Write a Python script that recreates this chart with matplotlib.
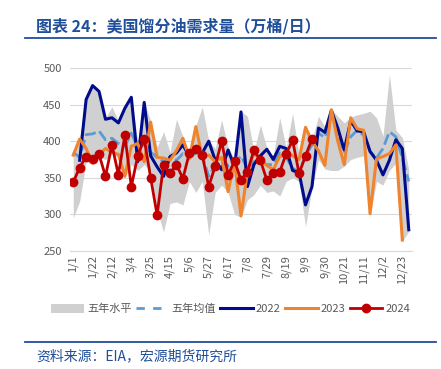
from matplotlib import pyplot as plt
from matplotlib.patches import Patch
from matplotlib.lines import Line2D

plt.rcParams['font.family'] = ['Noto Sans CJK SC', 'DejaVu Sans']

# 横轴刻度(每3周一个)
tick_labels = ['1/1', '1/22', '2/12', '3/4', '3/25', '4/15', '5/6', '5/27', '6/17',
               '7/8', '7/29', '8/19', '9/9', '9/30', '10/21', '11/11', '12/2', '12/23']
n_weeks = 53

# 五年区间上下沿
band_high = [385, 405, 458, 477, 469, 432, 447, 428, 446, 461, 400, 454, 428, 392, 413, 385,
             430, 406, 385, 421, 447, 401, 390, 429, 392, 375, 441, 434, 386, 422, 391, 380,
             432, 391, 438, 380, 420, 402, 434, 420, 444, 434, 425, 433, 436, 438, 441, 432,
             407, 491, 415, 405, 361]
band_low = [295, 318, 372, 368, 378, 375, 383, 378, 350, 368, 360, 368, 360, 305, 276, 315,
            317, 313, 345, 330, 345, 272, 330, 340, 330, 300, 296, 320, 327, 340, 330, 332,
            325, 345, 350, 345, 283, 336, 375, 362, 360, 360, 366, 375, 378, 380, 299, 345,
            340, 360, 370, 263, 277]
# 五年均值
avg5 = [385, 378, 409, 410, 414, 402, 404, 397, 393, 411, 392, 395, 385, 378, 372, 376,
        374, 383, 377, 384, 380, 352, 368, 375, 366, 368, 380, 362, 372, 375, 368, 368,
        384, 378, 363, 358, 380, 395, 411, 405, 436, 410, 385, 406, 415, 408, 386, 377,
        390, 413, 406, 377, 345]
y2022 = [None, 374, 457, 476, 468, 430, 432, 425, 445, 460, 372, 453, 380, 365, 352, 379,
         384, 395, 379, 388, 384, 400, 374, 361, 388, 365, 440, 338, 368, 380, 389, 375,
         393, 390, 360, 357, 313, 338, 418, 412, 442, 418, 388, 428, 414, 413, 386, 374,
         354, 374, 402, 390, 279]
y2023 = [381, 403, 390, 370, 382, 390, 385, 382, 352, 393, 397, 372, 426, 378, 377, 374,
         387, 404, 376, 420, 378, 381, 372, 378, 331, 372, 298, 358, 384, 374, 367, 361,
         379, 385, 380, 375, 419, 400, 387, 367, 443, 400, 368, 432, 417, 415, 301, 376,
         379, 383, 395, 265, None]
y2024 = [344, 364, 379, 376, 382, 352, 395, 354, 408, 338, 380, 403, 350, 299, 368, 356,
         368, 349, 384, 389, 381, 338, 366, 400, 354, 373, 347, 358, 388, 374, 347, 356,
         358, 383, 401, 356, 380, 403]

fig = plt.figure(figsize=(4.41, 3.69), dpi=100)
ax = fig.add_axes([70 / 441, 1 - 251 / 369, 342 / 441, 183 / 369])

x = list(range(n_weeks))
c_band = '#D0D0D0'
c_avg = '#5B9BD5'
c_22 = '#000C8C'
c_23 = '#F0832E'
c_24 = '#C00000'

ax.fill_between(x, band_low, band_high, color=c_band, lw=0, zorder=1)
ax.plot(x, avg5, color=c_avg, lw=2.0, ls=(0, (4, 1.5)), zorder=2)
ax.plot(x, [v if v is not None else float('nan') for v in y2022], color=c_22, lw=2.2, zorder=3)
ax.plot(x, [v if v is not None else float('nan') for v in y2023], color=c_23, lw=2.2, zorder=4)
ax.plot(range(len(y2024)), y2024, color=c_24, lw=2.0, marker='o', ms=6, zorder=5)

ax.set_xlim(-0.5, n_weeks - 0.5)
ax.set_ylim(250, 500)
ax.set_yticks(range(250, 501, 50))
ax.set_xticks(range(0, 3 * len(tick_labels), 3))
ax.set_xticklabels(tick_labels, rotation=90)
ax.tick_params(axis='both', length=0, labelsize=8, labelcolor='#595959')
ax.tick_params(axis='y', pad=6)
ax.tick_params(axis='x', pad=3)
ax.grid(axis='y', color='#D9D9D9', lw=0.8, zorder=0)
ax.set_axisbelow(True)
for s in ['top', 'right', 'left']:
    ax.spines[s].set_visible(False)
ax.spines['bottom'].set_color('#D9D9D9')
ax.spines['bottom'].set_linewidth(0.8)

handles = [Patch(facecolor=c_band, edgecolor='none'),
           Line2D([], [], color=c_avg, lw=2.0, ls=(0, (3, 3))),
           Line2D([], [], color=c_22, lw=2.2),
           Line2D([], [], color=c_23, lw=2.2),
           Line2D([], [], color=c_24, lw=2.0, marker='o', ms=6)]
labels = ['五年水平', '五年均值', '2022', '2023', '2024']
fig.legend(handles, labels, loc='center', bbox_to_anchor=(231 / 441, 1 - 309 / 369),
           ncol=5, frameon=False, fontsize=8, labelcolor='#595959', handlelength=2.9,
           handletextpad=0.3, columnspacing=0.4, handleheight=0.9)

# 标题和来源
navy = '#1F4E9A'
fig.text(36 / 441, 1 - 26 / 369, '图表 24：美国馏分油需求量（万桶/日）', fontsize=11.5,
         fontweight='bold', color=navy, va='center')
fig.add_artist(Line2D([25 / 441, 436 / 441], [1 - 38 / 369] * 2, color=navy, lw=1.3))
fig.add_artist(Line2D([25 / 441, 436 / 441], [1 - 342 / 369] * 2, color=navy, lw=1.3))
fig.text(36 / 441, 1 - 356 / 369, '资料来源：EIA，宏源期货研究所', fontsize=10,
         color=navy, va='center', style='italic')

fig.savefig('out.png', dpi=100)
